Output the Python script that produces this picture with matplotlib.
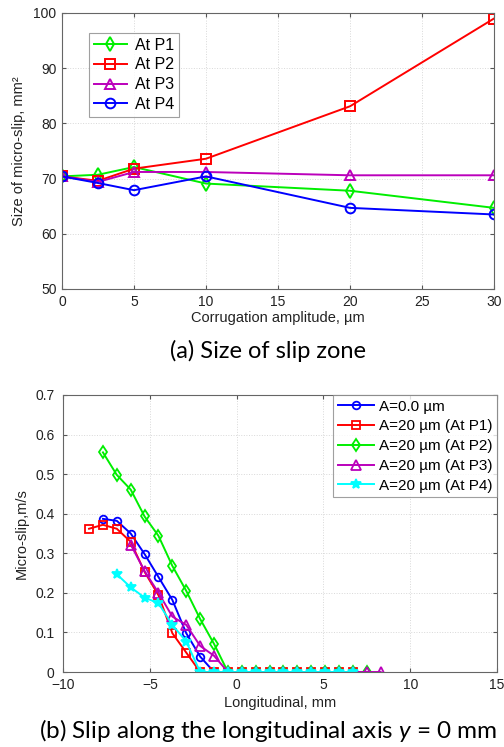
import numpy as np
import matplotlib
matplotlib.use("Agg")
import matplotlib.pyplot as plt

plt.rcParams['font.family'] = ['Liberation Sans', 'DejaVu Sans']
plt.rcParams['mathtext.fontset'] = 'custom'
plt.rcParams['mathtext.rm'] = 'Lato'
plt.rcParams['mathtext.it'] = 'Lato:italic'

# (a) size of micro-slip zone vs corrugation amplitude
amp = [0, 2.5, 5, 10, 20, 30]
size_p1 = [70.4, 70.7, 72.1, 69.1, 67.8, 64.7]
size_p2 = [70.4, 69.6, 71.8, 73.6, 83.1, 99.0]
size_p3 = [70.4, 69.4, 71.2, 71.2, 70.6, 70.6]
size_p4 = [70.4, 69.2, 67.9, 70.4, 64.7, 63.5]

# (b) micro-slip along longitudinal axis
x_a0 = [-7.7, -6.9, -6.1, -5.3, -4.5, -3.7, -2.9, -2.1, -1.3, -0.5, 0.3, 1.1, 1.9,
        2.7, 3.5, 4.3, 5.1, 5.9, 6.7]
s_a0 = [0.387, 0.382, 0.350, 0.298, 0.240, 0.182, 0.098, 0.039, 0, 0, 0, 0, 0,
        0, 0, 0, 0, 0, 0]
x_p1 = [-8.5, -7.7, -6.9, -6.1, -5.3, -4.5, -3.7, -2.9, -2.1, -1.3, -0.5, 0.3, 1.1,
        1.9, 2.7, 3.5, 4.3, 5.1, 5.9, 6.7]
s_p1 = [0.362, 0.372, 0.362, 0.329, 0.253, 0.194, 0.098, 0.049, 0, 0, 0, 0, 0,
        0, 0, 0, 0, 0, 0, 0]
x_p2 = [-7.7, -6.9, -6.1, -5.3, -4.5, -3.7, -2.9, -2.1, -1.3, -0.5, 0.3, 1.1, 1.9,
        2.7, 3.5, 4.3, 5.1, 5.9, 6.7, 7.5]
s_p2 = [0.555, 0.498, 0.461, 0.393, 0.344, 0.268, 0.205, 0.134, 0.071, 0, 0, 0, 0,
        0, 0, 0, 0, 0, 0, 0]
x_p3 = [-6.1, -5.3, -4.5, -3.7, -2.9, -2.1, -1.3, -0.5, 0.3, 1.1, 1.9, 2.7, 3.5,
        4.3, 5.1, 5.9, 6.7, 7.5, 8.3]
s_p3 = [0.322, 0.255, 0.200, 0.140, 0.119, 0.066, 0.041, 0, 0, 0, 0, 0, 0,
        0, 0, 0, 0, 0, 0]
x_p4 = [-6.9, -6.1, -5.3, -4.5, -3.7, -2.9, -2.1, -1.3, -0.5, 0.3, 1.1, 1.9, 2.7,
        3.5, 4.3, 5.1, 5.9, 6.7]
s_p4 = [0.247, 0.214, 0.188, 0.174, 0.119, 0.077, 0, 0, 0, 0, 0, 0, 0,
        0, 0, 0, 0, 0]

W, H = 504, 747
fig = plt.figure(figsize=(W / 100, H / 100), dpi=100)

def box(l, t, r, b):
    return [l / W, 1 - b / H, (r - l) / W, (b - t) / H]

def style(ax):
    ax.grid(True, color='#d8d8d8', linestyle=':', linewidth=0.7)
    ax.tick_params(direction='in', labelsize=10, length=3, top=True, right=True,
                   colors='#555555', labelcolor='#222222', pad=4)
    for s in ax.spines.values():
        s.set_color('#666666')
        s.set_linewidth(0.8)

# top panel
ax1 = fig.add_axes(box(62, 13, 494, 289))
mk = dict(markerfacecolor='none', markersize=7, markeredgewidth=1.4, linewidth=1.4)
ax1.plot(amp, size_p1, color='#00ee00', marker='d', label='At P1', **mk)
ax1.plot(amp, size_p2, color='#ff0000', marker='s', label='At P2', **mk)
ax1.plot(amp, size_p3, color='#bb00bb', marker='^', label='At P3', **mk)
ax1.plot(amp, size_p4, color='#0000ff', marker='o', label='At P4', **mk)
ax1.set_xlim(0, 30)
ax1.set_ylim(50, 100)
ax1.set_xticks([0, 5, 10, 15, 20, 25, 30])
ax1.set_yticks([50, 60, 70, 80, 90, 100])
style(ax1)
ax1.set_xlabel('Corrugation amplitude, µm', fontsize=10.5, labelpad=2, color='#222222')
ax1.set_ylabel('Size of micro-slip, mm²', fontsize=10.5, labelpad=5, color='#222222')
leg1 = ax1.legend(loc='upper left', bbox_to_anchor=(0.062, 0.928), fontsize=11.5,
                  fancybox=False, edgecolor='#888888', handlelength=2.1,
                  borderpad=0.3, labelspacing=0.3, handletextpad=0.5,
                  borderaxespad=0)
leg1.get_frame().set_linewidth(0.8)

# bottom panel
ax2 = fig.add_axes(box(63, 395, 497, 672))
mk2 = dict(markerfacecolor='none', markersize=5.5, markeredgewidth=1.3, linewidth=1.4)
ax2.plot(x_a0, s_a0, color='#0000ff', marker='o', label='A=0.0 µm', **mk2)
ax2.plot(x_p1, s_p1, color='#ff0000', marker='s', label='A=20 µm (At P1)', **mk2)
ax2.plot(x_p2, s_p2, color='#00ee00', marker='d', label='A=20 µm (At P2)',
         markerfacecolor='none', markersize=6.5, markeredgewidth=1.3, linewidth=1.4)
ax2.plot(x_p3, s_p3, color='#bb00bb', marker='^', label='A=20 µm (At P3)',
         markerfacecolor='none', markersize=6.5, markeredgewidth=1.3, linewidth=1.4)
ax2.plot(x_p4, s_p4, color='#00ffff', marker='*', label='A=20 µm (At P4)',
         markersize=7, markeredgewidth=1.3, linewidth=1.4)
ax2.set_xlim(-10, 15)
ax2.set_ylim(0, 0.7)
ax2.set_xticks([-10, -5, 0, 5, 10, 15])
ax2.set_yticks([0, 0.1, 0.2, 0.3, 0.4, 0.5, 0.6, 0.7])
ax2.set_yticklabels(['0', '0.1', '0.2', '0.3', '0.4', '0.5', '0.6', '0.7'])
style(ax2)
ax2.tick_params(axis='y', pad=6)
ax2.set_xlabel('Longitudinal, mm', fontsize=10.5, labelpad=3, color='#222222')
ax2.set_ylabel('Micro-slip,m/s', fontsize=10.5, labelpad=5, color='#222222')
leg2 = ax2.legend(loc='upper right', bbox_to_anchor=(1.0, 1.0), fontsize=11,
                  fancybox=False, edgecolor='#888888', handlelength=2.4,
                  borderpad=0.3, labelspacing=0.38, handletextpad=0.3,
                  borderaxespad=0)
leg2.get_frame().set_linewidth(0.8)

fig.text(0.532, 1 - 351 / H, '(a) Size of slip zone', ha='center', va='center',
         fontsize=17, family=['Lato', 'DejaVu Sans'])
fig.text(0.532, 1 - 730 / H, '(b) Slip along the longitudinal axis $\\it{y}$ = 0 mm',
         ha='center', va='center', fontsize=17.5, family=['Lato', 'DejaVu Sans'])

fig.savefig('out.png', dpi=100)
